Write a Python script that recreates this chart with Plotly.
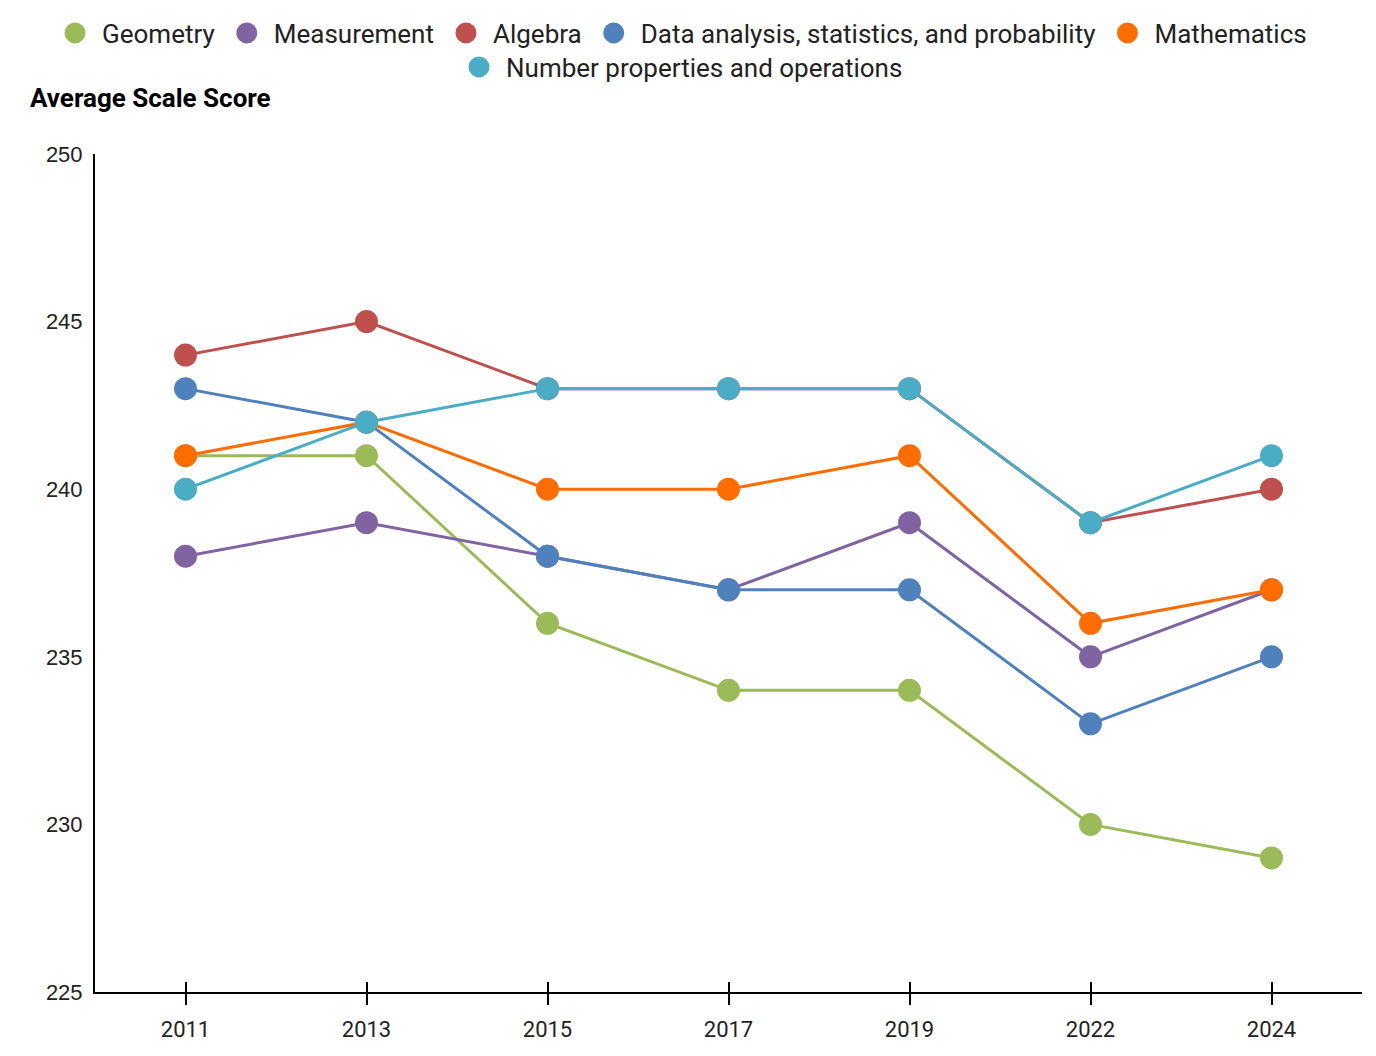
import plotly.graph_objects as go

years = ["2011", "2013", "2015", "2017", "2019", "2022", "2024"]
series_names = [
    "Geometry",
    "Measurement",
    "Algebra",
    "Data analysis, statistics, and probability",
    "Mathematics",
    "Number properties and operations",
]
geometry = [241, 241, 236, 234, 234, 230, 229]
measurement = [238, 239, 238, 237, 239, 235, 237]
algebra = [244, 245, 243, 243, 243, 239, 240]
data_analysis = [243, 242, 238, 237, 237, 233, 235]
mathematics = [241, 242, 240, 240, 241, 236, 237]
number_props = [240, 242, 243, 243, 243, 239, 241]
y_ticks = [225, 230, 235, 240, 245, 250]

values = [geometry, measurement, algebra, data_analysis, mathematics, number_props]
colors = ["#9bbb59", "#8064a2", "#c0504d", "#4f81bd", "#ff6d00", "#4bacc6"]

# page has an 8px body margin; size the figure to fit the 1376x1056 window
W, H = 1360, 1040
OFF = 8
FONT = "Roboto"

fig = go.Figure()
for name, vals, col in zip(series_names, values, colors):
    fig.add_trace(go.Scatter(
        x=years, y=vals, mode="lines+markers", name=name,
        line=dict(color=col, width=3),
        marker=dict(color=col, size=23),
        showlegend=False,
    ))

# legend-only dot entries
for i, (name, col) in enumerate(zip(series_names, colors)):
    fig.add_trace(go.Scatter(
        x=[None], y=[None], mode="markers", name=name,
        marker=dict(color=col, size=16, line=dict(color=col, width=5)),
        legend="legend" if i < 5 else "legend2",
    ))

legend_common = dict(
    orientation="h", xref="container", yref="container",
    x=(680 - OFF) / W, xanchor="center", yanchor="middle",
    font=dict(family=FONT, size=26, color="#222222"),
    bgcolor="rgba(0,0,0,0)", itemsizing="trace", itemwidth=44,
    traceorder="normal",
)

fig.update_layout(
    width=W, height=H,
    margin=dict(l=95 - OFF, r=W + OFF - 1362, t=154 - OFF, b=H + OFF - 999),
    paper_bgcolor="white", plot_bgcolor="white",
    font=dict(family=FONT, color="#222222"),
    title=dict(
        text="<b>Average Scale Score</b>",
        xref="container", yref="container",
        x=(30 - OFF) / W, xanchor="left",
        y=1 - (98 - OFF) / H, yanchor="middle",
        font=dict(family=FONT, size=26, color="#000000"),
    ),
    legend=dict(**legend_common, y=1 - (33 - OFF) / H),
    legend2=dict(**legend_common, y=1 - (67 - OFF) / H),
    xaxis=dict(
        type="category", categoryorder="array", categoryarray=years,
        range=[-0.5, 6.5],
        showgrid=False, zeroline=False,
        showline=True, linecolor="#000000", linewidth=2,
        ticks="outside", ticklen=11, tickwidth=2, tickcolor="#000000",
        ticklabelstandoff=6,
        tickfont=dict(family=FONT, size=22, color="#222222"),
    ),
    xaxis2=dict(
        type="category", categoryorder="array", categoryarray=years,
        overlaying="x", matches="x", anchor="y",
        range=[-0.5, 6.5],
        showgrid=False, zeroline=False, showline=False,
        ticks="inside", ticklen=10, tickwidth=2, tickcolor="#000000",
        showticklabels=False,
    ),
    yaxis=dict(
        range=[225, 250], tickvals=y_ticks,
        showgrid=False, zeroline=False,
        showline=True, linecolor="#000000", linewidth=2,
        ticks="", ticklabelstandoff=6,
        tickfont=dict(family="Liberation Sans", size=22, color="#222222"),
    ),
)

fig.add_trace(go.Scatter(x=years, y=[None] * len(years), xaxis="x2",
                         mode="lines", showlegend=False, hoverinfo="skip"))

fig.write_html("out.html")
